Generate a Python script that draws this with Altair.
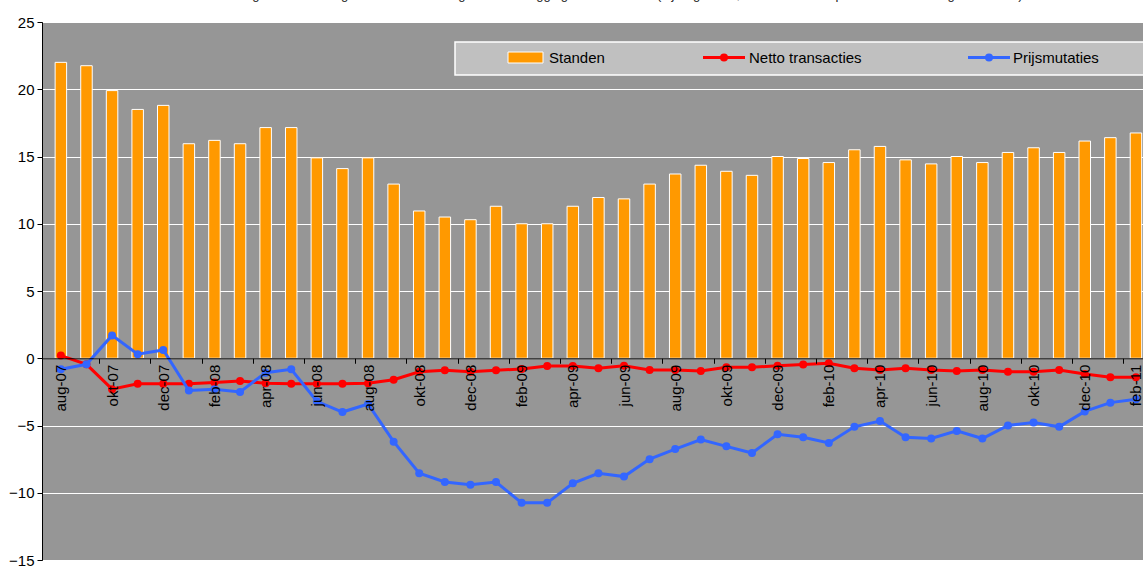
import altair as alt
import pandas as pd

months = ["aug-07", "sep-07", "okt-07", "nov-07", "dec-07", "jan-08", "feb-08", "mrt-08",
          "apr-08", "mei-08", "jun-08", "jul-08", "aug-08", "sep-08", "okt-08", "nov-08",
          "dec-08", "jan-09", "feb-09", "mrt-09", "apr-09", "mei-09", "jun-09", "jul-09",
          "aug-09", "sep-09", "okt-09", "nov-09", "dec-09", "jan-10", "feb-10", "mrt-10",
          "apr-10", "mei-10", "jun-10", "jul-10", "aug-10", "sep-10", "okt-10", "nov-10",
          "dec-10", "jan-11", "feb-11"]

standen = [22.0, 21.75, 19.9, 18.5, 18.8, 15.95, 16.2, 15.95, 17.15, 17.15, 14.9, 14.1,
           14.9, 12.95, 10.95, 10.5, 10.3, 11.3, 10.0, 10.0, 11.3, 11.95, 11.85, 12.95,
           13.7, 14.35, 13.9, 13.6, 15.0, 14.85, 14.55, 15.5, 15.75, 14.75, 14.45, 15.0,
           14.55, 15.3, 15.65, 15.3, 16.15, 16.4, 16.75]

netto = [0.2, -0.45, -2.3, -1.9, -1.9, -1.9, -1.8, -1.7, -1.85, -1.9, -1.9, -1.9,
         -1.85, -1.6, -1.0, -0.9, -1.0, -0.9, -0.8, -0.57, -0.57, -0.75, -0.55, -0.87,
         -0.87, -0.95, -0.67, -0.67, -0.55, -0.47, -0.37, -0.75, -0.87, -0.75, -0.87, -0.95,
         -0.87, -1.0, -1.0, -0.87, -1.17, -1.42, -1.42]

prijs = [-0.82, -0.45, 1.7, 0.3, 0.62, -2.4, -2.3, -2.5, -1.07, -0.82, -3.2, -4.0,
         -3.4, -6.2, -8.55, -9.2, -9.4, -9.2, -10.75, -10.75, -9.3, -8.55, -8.8, -7.5,
         -6.75, -6.05, -6.55, -7.05, -5.65, -5.87, -6.3, -5.1, -4.67, -5.87, -5.97, -5.4,
         -5.97, -5.0, -4.77, -5.1, -3.95, -3.3, -3.05]

y_ticks = [-15, -10, -5, 0, 5, 10, 15, 20, 25]
legend_labels = ["Standen", "Netto transacties", "Prijsmutaties"]
title_text = ("Figuur 3  Ontleding van de ontwikkeling van de beleggingen in aandelen "
              "(bijdrage in %, cumulatief ten opzichte van eind augustus 2007)")

ORANGE = "#FF9900"
RED = "#FF0000"
BLUE = "#3366FF"
FONT = "Liberation Sans"

W = 1101
H = 538

df = pd.DataFrame({
    "idx": list(range(len(months))),
    "maand": months,
    "Standen": standen,
    "Netto": netto,
    "Prijs": prijs,
})

xscale = alt.Scale(domain=[-0.542, 42.08], nice=False, zero=False)
yscale = alt.Scale(domain=[y_ticks[0], y_ticks[-1]], nice=False, zero=False)
zero_offset = -H * (0 - y_ticks[0]) / (y_ticks[-1] - y_ticks[0])

# labels on even months, tick marks on the boundaries between every second month
x_values = []
for i in range(0, len(months), 2):
    x_values.append(i)
    if i + 1.5 < len(months) - 0.5:
        x_values.append(i + 1.5)

label_expr = ("datum.value % 1 == 0 ? [" + ",".join("'%s'" % m for m in months)
              + "][datum.value] : ''")

x_axis = alt.Axis(
    values=x_values, labelExpr=label_expr, labelAngle=270,
    ticks=True, tickSize=5, tickColor="black",
    tickOpacity={"condition": {"test": "datum.value % 1 == 0", "value": 0}, "value": 1},
    labelPadding=1, domain=True, domainColor="black",
    domainWidth=1, grid=False, title=None, offset=zero_offset, labelFontSize=15,
    labelColor="black", labelOverlap=False, labelFlush=False, labelFont=FONT, zindex=2,
)
y_axis = alt.Axis(
    values=y_ticks, grid=True, gridColor="white", gridWidth=1, domainColor="black",
    tickColor="black", tickSize=5, labelFontSize=15, labelColor="black",
    labelPadding=3, title=None, labelFont=FONT,
)

base = alt.Chart(df)

bars = base.mark_bar(size=11.5, color=ORANGE, stroke="white", strokeWidth=1, clip=True).encode(
    x=alt.X("idx:Q", scale=xscale, axis=x_axis),
    y=alt.Y("Standen:Q", scale=yscale, axis=y_axis),
)

red_line = base.mark_line(color=RED, strokeWidth=3, clip=True).encode(
    x=alt.X("idx:Q", scale=xscale, axis=None),
    y=alt.Y("Netto:Q", scale=yscale, axis=None),
)
red_pts = base.mark_circle(color=RED, size=64, opacity=1, clip=True).encode(
    x=alt.X("idx:Q", scale=xscale, axis=None),
    y=alt.Y("Netto:Q", scale=yscale, axis=None),
)
blue_line = base.mark_line(color=BLUE, strokeWidth=3, clip=True).encode(
    x=alt.X("idx:Q", scale=xscale, axis=None),
    y=alt.Y("Prijs:Q", scale=yscale, axis=None),
)
blue_pts = base.mark_circle(color=BLUE, size=64, opacity=1, clip=True).encode(
    x=alt.X("idx:Q", scale=xscale, axis=None),
    y=alt.Y("Prijs:Q", scale=yscale, axis=None),
)

one = alt.Chart(pd.DataFrame({"k": [0]}))

legend_box = one.mark_rect(fill="#C0C0C0", stroke="white", strokeWidth=1.5).encode(
    x=alt.value(413), x2=alt.value(1140), y=alt.value(20), y2=alt.value(53))
sw_orange = one.mark_rect(fill=ORANGE, stroke="white", strokeWidth=1).encode(
    x=alt.value(466), x2=alt.value(501), y=alt.value(30), y2=alt.value(41))
lg_red = one.mark_rule(color=RED, strokeWidth=3).encode(
    x=alt.value(661), x2=alt.value(703), y=alt.value(35.5))
lg_red_pt = one.mark_circle(color=RED, size=64, opacity=1).encode(
    x=alt.value(682), y=alt.value(35.5))
lg_blue = one.mark_rule(color=BLUE, strokeWidth=3).encode(
    x=alt.value(926), x2=alt.value(968), y=alt.value(35.5))
lg_blue_pt = one.mark_circle(color=BLUE, size=64, opacity=1).encode(
    x=alt.value(947), y=alt.value(35.5))

def lg_text(label, xpos):
    return one.mark_text(text=label, align="left", baseline="middle", fontSize=15,
                         font=FONT, color="black").encode(x=alt.value(xpos), y=alt.value(35.5))

title = one.mark_text(text=title_text, align="center", baseline="alphabetic", fontSize=13,
                      font=FONT, color="#222222").encode(x=alt.value(590), y=alt.value(-23))

chart = alt.layer(
    bars, red_line, red_pts, blue_line, blue_pts,
    legend_box, sw_orange, lg_red, lg_red_pt, lg_blue, lg_blue_pt,
    lg_text(legend_labels[0], 507), lg_text(legend_labels[1], 707), lg_text(legend_labels[2], 971),
    title,
).resolve_axis(x="independent", y="independent").properties(
    width=W, height=H,
    autosize=alt.AutoSizeParams(type="none"),
    padding={"left": 42, "top": 22, "right": 0, "bottom": 6},
    background="white",
).configure(font=FONT).configure_view(
    fill="#969696", stroke="black", strokeWidth=1,
)

chart.save("out.html", embed_options={"renderer": "svg", "actions": False})
